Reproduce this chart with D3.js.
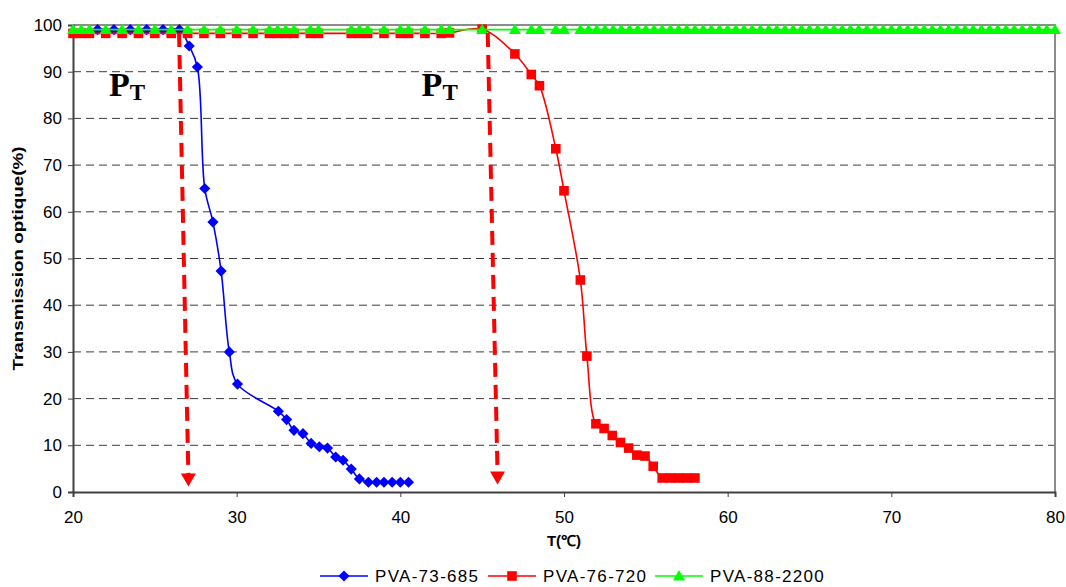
<!DOCTYPE html>
<html>
<head>
<meta charset="utf-8">
<script src="https://cdn.jsdelivr.net/npm/d3@7"></script>
<style>
  html, body { margin: 0; padding: 0; background: #fff; }
  svg { display: block; }
</style>
</head>
<body>
<svg id="chart" width="1066" height="587" font-family="Liberation Sans, Arial, sans-serif"></svg>
<script>
// ---------- DATA ----------
const xTicks = [20, 30, 40, 50, 60, 70, 80];
const yTicks = [0, 10, 20, 30, 40, 50, 60, 70, 80, 90, 100];
const seriesNames = ["PVA-73-685", "PVA-76-720", "PVA-88-2200"];

const blueX = [21.5, 22.5, 23.5, 24.5, 25.5, 26.5, 27.1, 27.6, 28.05, 28.55, 29.05, 29.55, 30.05,
  32.55, 33.05, 33.5, 34.05, 34.55, 35.05, 35.55, 36.05, 36.5, 37.0, 37.5, 38.05, 38.55, 39.0, 39.5, 40.0, 40.5];
const blueY = [99, 99, 99, 99, 99, 99, 95.5, 91, 65, 57.8, 47.3, 30, 23.1,
  17.3, 15.5, 13.2, 12.5, 10.4, 9.7, 9.4, 7.5, 6.8, 4.9, 2.8, 2.1, 2.1, 2.1, 2.1, 2.1, 2.1];

const redX = [20, 20.5, 21, 22, 23, 24, 25, 26, 27, 28, 29, 30, 31, 32, 32.5, 33, 33.5, 34.5, 35,
  37, 37.5, 38, 39, 40, 40.5, 41.5, 42.5, 43, 45,
  47, 48, 48.5, 49.5, 50, 51, 51.4, 51.95, 52.45, 52.95, 53.45, 53.95, 54.45, 54.95, 55.45,
  56, 56.5, 57, 57.5, 58];
const redY = [98.2, 98.2, 98.2, 98.2, 98.2, 98.2, 98.2, 98.2, 98.2, 98.2, 98.2, 98.2, 98.2, 98.2, 98.2, 98.2, 98.2, 98.2, 98.2,
  98.2, 98.2, 98.2, 98.2, 98.2, 98.2, 98.2, 98.2, 98.3, 99.1,
  93.8, 89.4, 87.0, 73.5, 64.5, 45.4, 29.1, 14.6, 13.6, 12.1, 10.6, 9.4, 7.9, 7.7, 5.5,
  3.0, 3.0, 3.0, 3.0, 3.0];

const greenX = [20, 20.5, 21, 22, 23, 24, 25, 26, 27, 28, 29, 30, 31, 32, 32.5, 33, 33.5, 34.5, 35,
  37, 37.5, 38, 39, 40, 40.5, 41.5, 42.5, 43, 45, 47, 48, 48.5, 49.5, 50,
  51, 51.5, 52, 52.5, 53, 53.5, 54, 54.5, 55, 55.5, 56, 56.5, 57, 57.5, 58, 58.5, 59, 59.5,
  60, 60.5, 61, 61.5, 62, 62.5, 63, 63.5, 64, 64.5, 65, 65.5, 66, 66.5, 67, 67.5, 68, 68.5, 69, 69.5,
  70, 70.5, 71, 71.5, 72, 72.5, 73, 73.5, 74, 74.5, 75, 75.5, 76, 76.5, 77, 77.5, 78, 78.5, 79, 79.5, 80];
const greenY = [99, 99, 99, 99, 99, 99, 99, 99, 99, 99, 99, 99, 99, 99, 99, 99, 99, 99, 99,
  99, 99, 99, 99, 99, 99, 99, 99, 99, 99, 99, 99, 99, 99, 99,
  99, 99, 99, 99, 99, 99, 99, 99, 99, 99, 99, 99, 99, 99, 99, 99, 99, 99,
  99, 99, 99, 99, 99, 99, 99, 99, 99, 99, 99, 99, 99, 99, 99, 99, 99, 99, 99, 99,
  99, 99, 99, 99, 99, 99, 99, 99, 99, 99, 99, 99, 99, 99, 99, 99, 99, 99, 99, 99, 99];

// P_T annotations (data coordinates)
const arrowStartX = [26.48, 45.34];
const arrowStartY = [98.3, 98.3];
const arrowTipX = [27.05, 45.94];
const arrowTipY = [1.2, 1.6];
const labelX = [22.2, 41.3];
const labelY = [84.7, 84.7];

// ---------- LAYOUT ----------
const W = 1066, H = 587;
const m = { left: 73, right: 11, top: 25, bottom: 95 };
const svg = d3.select("#chart");
const x = d3.scaleLinear().domain([20, 80]).range([m.left, W - m.right]);
const y = d3.scaleLinear().domain([0, 100]).range([H - m.bottom, m.top]);

// gridlines
svg.append("g").selectAll("line").data(yTicks.filter(t => t > 0 && t < 100)).join("line")
  .attr("x1", x(20)).attr("x2", x(80))
  .attr("y1", d => y(d)).attr("y2", d => y(d))
  .attr("stroke", "#3c3c3c").attr("stroke-width", 1).attr("stroke-dasharray", "8,5");

// top & right border
svg.append("path")
  .attr("d", `M${x(20)},${y(100)}H${x(80)}V${y(0)}`)
  .attr("fill", "none").attr("stroke", "#8c8c8c").attr("stroke-width", 2);

// axes
const yAxis = svg.append("g").attr("transform", `translate(${x(20)},0)`)
  .call(d3.axisLeft(y).tickValues(yTicks).tickSize(5).tickPadding(6).tickFormat(d3.format("d")));
const xAxis = svg.append("g").attr("transform", `translate(0,${y(0)})`)
  .call(d3.axisBottom(x).tickValues(xTicks).tickSize(5).tickPadding(14).tickFormat(d3.format("d")));
[yAxis, xAxis].forEach(a => {
  a.attr("font-family", "Liberation Sans, Arial, sans-serif").attr("font-size", 17);
  a.select(".domain").attr("stroke", "#404040").attr("stroke-width", 2);
  a.selectAll(".tick line").attr("stroke", "#404040").attr("stroke-width", 1);
  a.selectAll("text").attr("fill", "#000");
});

// axis titles
svg.append("text").attr("x", x(50)).attr("y", 546).attr("text-anchor", "middle")
  .attr("font-size", 15).attr("font-weight", "bold").text("T(℃)");
svg.append("text").attr("transform", `translate(23,${(y(0) + y(100)) / 2}) rotate(-90)`)
  .attr("text-anchor", "middle").attr("font-size", 15).attr("font-weight", "bold")
  .attr("textLength", 224).attr("lengthAdjust", "spacingAndGlyphs")
  .text("Transmission optique(%)");

// ---------- SERIES ----------
const line = d3.line().x(d => x(d[0])).y(d => y(d[1])).curve(d3.curveCatmullRom.alpha(0.5));
const series = [
  { name: seriesNames[0], xs: blueX, ys: blueY, color: "#0000ff", sym: "diamond" },
  { name: seriesNames[1], xs: redX, ys: redY, color: "#ff0000", sym: "square" },
  { name: seriesNames[2], xs: greenX, ys: greenY, color: "#00ff00", sym: "triangle" }
];
function symPath(s) {
  if (s === "diamond") return d3.symbol(d3.symbolSquare, 62)();
  if (s === "square") return d3.symbol(d3.symbolSquare, 92)();
  return d3.symbol(d3.symbolTriangle, 62)();
}
function symTransform(s, px, py) {
  if (s === "diamond") return `translate(${px},${py}) rotate(45)`;
  if (s === "triangle") return `translate(${px},${py + 1})`;
  return `translate(${px},${py})`;
}

series.forEach(s => {
  const pts = s.xs.map((v, i) => [v, s.ys[i]]);
  svg.append("path").datum(pts).attr("d", line)
    .attr("fill", "none").attr("stroke", s.color).attr("stroke-width", 1.6);
  svg.append("g").selectAll("path").data(pts).join("path")
    .attr("d", symPath(s.sym))
    .attr("transform", d => symTransform(s.sym, x(d[0]), y(d[1])))
    .attr("fill", s.color);
});

// ---------- P_T ANNOTATIONS ----------
arrowStartX.forEach((sx, i) => {
  const tx = x(arrowTipX[i]), ty = y(arrowTipY[i]);
  const by = ty - 13;
  svg.append("line")
    .attr("x1", x(sx)).attr("y1", y(arrowStartY[i]))
    .attr("x2", tx).attr("y2", by + 2)
    .attr("stroke", "#ff0000").attr("stroke-width", 4).attr("stroke-dasharray", "14,8");
  svg.append("path")
    .attr("d", `M${tx},${ty}L${tx - 7.5},${by}L${tx + 7.5},${by}Z`)
    .attr("fill", "#ff0000");
  const t = svg.append("text").attr("x", x(labelX[i])).attr("y", y(labelY[i]))
    .attr("font-family", "Liberation Serif, 'Times New Roman', serif").attr("font-weight", "bold")
    .attr("font-size", 34);
  t.append("tspan").text("P");
  t.append("tspan").attr("font-size", 23).attr("dy", 4).text("T");
});

// ---------- LEGEND ----------
const legendX = [320, 488, 655];
const lg = svg.append("g");
series.forEach((s, i) => {
  const lx = legendX[i], ly = 576;
  lg.append("line").attr("x1", lx).attr("x2", lx + 48).attr("y1", ly).attr("y2", ly)
    .attr("stroke", s.color).attr("stroke-width", 1.6);
  lg.append("path").attr("d", symPath(s.sym))
    .attr("transform", symTransform(s.sym, lx + 24, ly)).attr("fill", s.color);
  lg.append("text").attr("x", lx + 55).attr("y", ly + 6).attr("font-size", 17)
    .attr("letter-spacing", 1.3).text(s.name);
});
</script>
</body>
</html>
